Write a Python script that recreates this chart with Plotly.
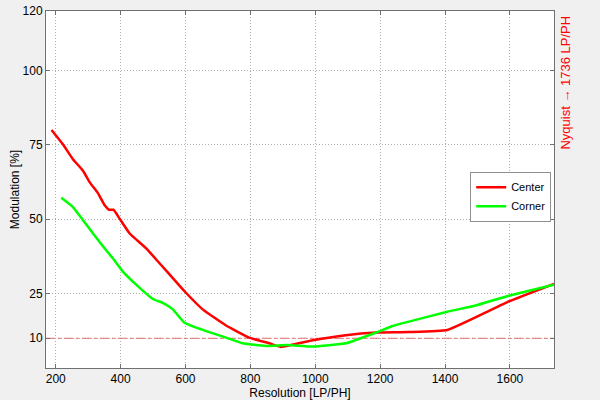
import plotly.graph_objects as go

# Center (red) curve
center_x = [187, 222, 253, 284, 305, 330, 351, 364, 378, 397, 428, 479, 520, 561, 597,
            653, 725, 797, 858, 894, 992, 1094, 1187, 1289, 1407, 1597, 1736]
center_y = [80.0, 75.2, 70.2, 66.3, 62.4, 58.8, 54.7, 53.2, 53.2, 50.2, 45.2, 40.2, 35.2, 30.2, 25.8,
            19.7, 14.3, 10.2, 8.3, 7.1, 9.3, 11.0, 11.9, 12.1, 12.8, 22.4, 28.3]

# Corner (green) curve
corner_x = [217, 253, 284, 315, 351, 376, 407, 448, 499, 530, 561, 597, 643, 664, 725,
            776, 848, 915, 992, 1094, 1187, 1238, 1289, 1407, 1494, 1597, 1736]
corner_y = [57.2, 54.1, 49.7, 45.2, 40.2, 36.9, 32.4, 28.0, 23.2, 21.9, 19.7, 15.2, 13.2, 12.4, 10.2,
            8.3, 7.4, 7.7, 7.2, 8.3, 11.9, 14.1, 15.6, 18.9, 21.0, 24.3, 28.0]

x_ticks = [200, 400, 600, 800, 1000, 1200, 1400, 1600]
y_ticks = [10, 25, 50, 75, 100, 120]
threshold = 10
nyquist = 1736

fig = go.Figure()
fig.add_trace(go.Scatter(x=[170, nyquist], y=[threshold, threshold], mode="lines",
                         line=dict(color="#e07070", width=1, dash="dashdot"),
                         showlegend=False, hoverinfo="skip"))
fig.add_trace(go.Scatter(x=center_x, y=center_y, mode="lines", name="Center",
                         line=dict(color="#ff0000", width=2.5, shape="spline", smoothing=0.4)))
fig.add_trace(go.Scatter(x=corner_x, y=corner_y, mode="lines", name="Corner",
                         line=dict(color="#00ff00", width=2.5, shape="spline", smoothing=0.4)))

axis_common = dict(showline=True, linecolor="#707070", linewidth=1, mirror="ticks",
                   ticks="inside", ticklen=4, tickcolor="#707070",
                   showgrid=True, gridcolor="#b0b0b0", griddash="1px,2px", gridwidth=1,
                   zeroline=False, automargin=False, tickfont=dict(size=12, color="black"))

fig.update_layout(
    width=600, height=400,
    margin=dict(l=46, r=46, t=11, b=32),
    paper_bgcolor="#f0f0f0", plot_bgcolor="white",
    font=dict(family="Liberation Sans, Arial, sans-serif", size=12, color="black"),
    xaxis=dict(range=[170, nyquist], tickvals=x_ticks,
               title=dict(text="Resolution [LP/PH]", font=dict(size=12), standoff=0),
               **axis_common),
    yaxis=dict(range=[0, 120], tickvals=y_ticks,
               title=dict(text="Modulation [%]", font=dict(size=12), standoff=0),
               **axis_common),
    legend=dict(x=0.835, y=0.55, xanchor="left", yanchor="top",
                bgcolor="white", bordercolor="#909090", borderwidth=1,
                font=dict(size=11), tracegroupgap=0, itemwidth=30),
    showlegend=True,
    annotations=[dict(text="Nyquist \u2192 1736 LP/PH", xref="paper", yref="paper",
                      x=1.022, y=0.80, xanchor="center", yanchor="middle",
                      textangle=-90, showarrow=False,
                      font=dict(size=13, color="#ff0000"))],
)

fig.write_html("out.html", config={"displayModeBar": False},
               post_script="document.body.style.margin='0';document.body.style.overflow='hidden';")
